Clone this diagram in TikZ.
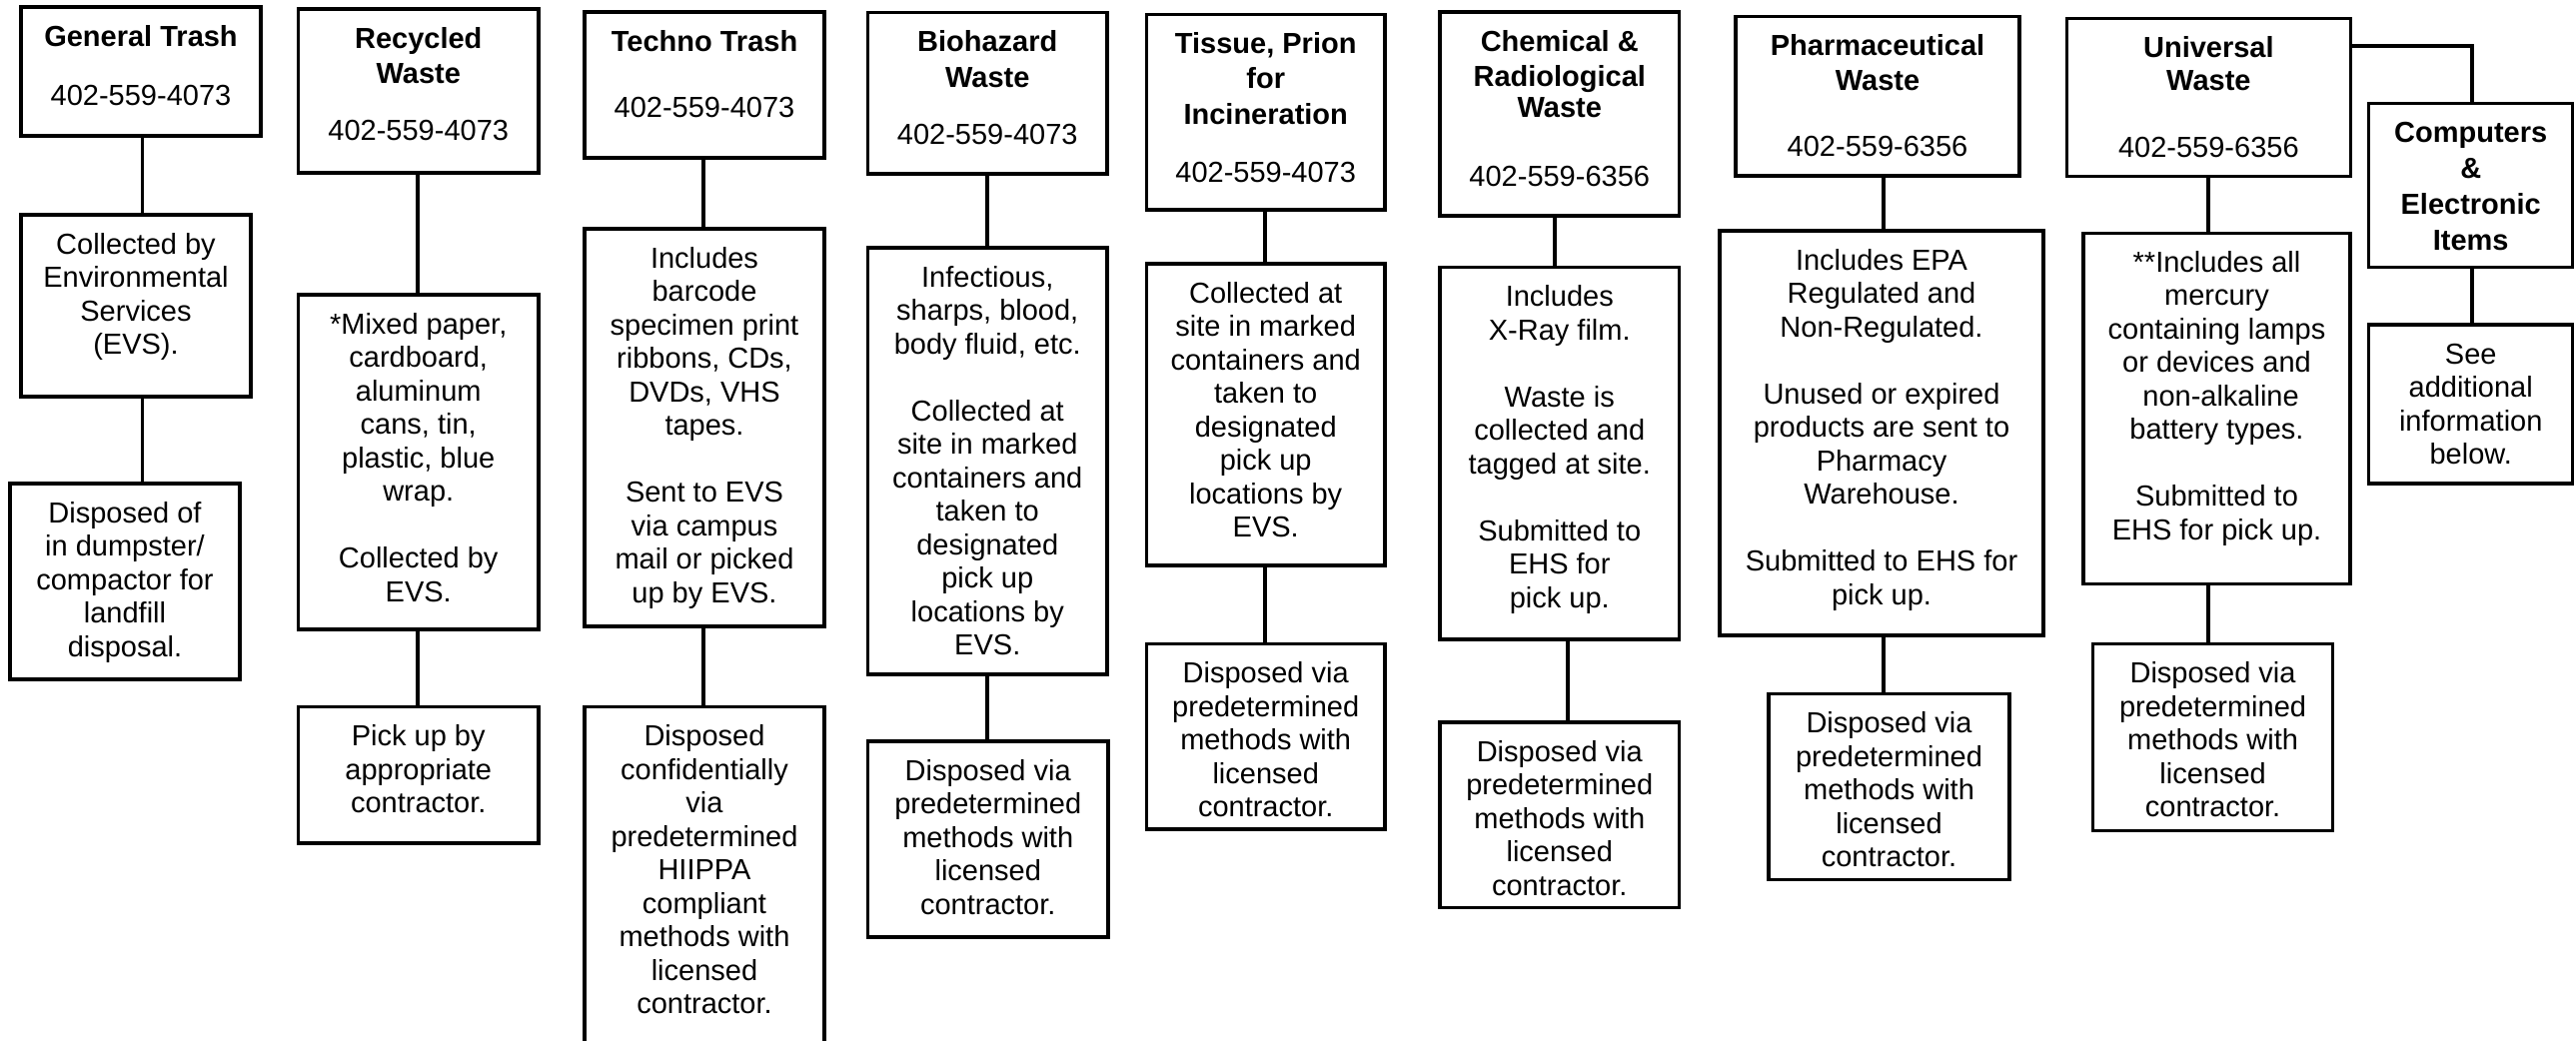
\documentclass[tikz,border=0pt]{standalone}
\usepackage{fontspec}
\setmainfont{Liberation Sans}
\newcommand\wb[3]{\parbox[c][#2][t]{#1}{\fontsize{14.5pt}{16.75pt}\selectfont\centering\rule{0pt}{19.5pt}#3}}
\tikzset{
  wbox/.style={draw, line width=1.65pt, inner sep=0pt},
  conn/.style={line width=1.65pt},
}
\begin{document}
\begin{tikzpicture}[x=0.5pt,y=-0.5pt]
\useasboundingbox (0,0) rectangle (2578,1041);
\fill[white] (0,0) rectangle (2578,1041);
\clip (0,0) rectangle (2578,1041);
% column A
\node[wbox] (A1) at (141,71.5) {\wb{120pt}{64.5pt}{\textbf{General Trash}\\[12.75pt]402-559-4073}};
\node[wbox] (A2) at (136,306) {\wb{115pt}{91pt}{Collected by\\Environmental\\Services\\(EVS).}};
\node[wbox] (A3) at (125,582) {\wb{115pt}{98pt}{Disposed of\\in dumpster/\\compactor for\\landfill\\disposal.}};
% column B
\node[wbox] (B1) at (418.75,91) {\wb{120.25pt}{82pt}{\textbf{Recycled}\\[1pt]\textbf{Waste}\\[11.6pt]402-559-4073}};
\node[wbox] (B2) at (418.75,462.5) {\wb{120.25pt}{167.5pt}{*Mixed paper,\\cardboard,\\aluminum\\cans, tin,\\plastic, blue\\wrap.\\[16.75pt]Collected by\\EVS.}};
\node[wbox] (B3) at (418.75,775.75) {\wb{120.25pt}{68.25pt}{Pick up by\\appropriate\\contractor.}};
% column C
\node[wbox] (C1) at (705,85) {\wb{120pt}{73pt}{\textbf{Techno Trash}\\[16.5pt]402-559-4073}};
\node[wbox] (C2) at (705,428) {\wb{120pt}{199pt}{Includes\\barcode\\specimen print\\ribbons, CDs,\\DVDs, VHS\\tapes.\\[16.75pt]Sent to EVS\\via campus\\mail or picked\\up by EVS.}};
\node[wbox] (C3) at (705,878.75) {\wb{120pt}{171.25pt}{Disposed\\confidentially\\via\\predetermined\\HIIPPA\\compliant\\methods with\\licensed\\contractor.}};
% column D
\node[wbox] (D1) at (988.25,93.35) {\wb{119.75pt}{80.65pt}{\textbf{Biohazard}\\[1pt]\textbf{Waste}\\[12.1pt]402-559-4073}};
\node[wbox] (D2) at (988.25,461.5) {\wb{119.75pt}{213.5pt}{Infectious,\\sharps, blood,\\body fluid, etc.\\[16.75pt]Collected at\\site in marked\\containers and\\taken to\\designated\\pick up\\locations by\\EVS.}};
\node[wbox] (D3) at (988.75,840) {\wb{120.25pt}{98pt}{Disposed via\\predetermined\\methods with\\licensed\\contractor.}};
% column E
\node[wbox] (E1) at (1266.7,112.15) {\wb{119.3pt}{97.85pt}{\textbf{Tissue, Prion}\\[1pt]\textbf{for}\\[1pt]\textbf{Incineration}\\[12.1pt]402-559-4073}};
\node[wbox] (E2) at (1266.7,415) {\wb{119.3pt}{151pt}{Collected at\\site in marked\\containers and\\taken to\\designated\\pick up\\locations by\\EVS.}};
\node[wbox] (E3) at (1266.7,737.3) {\wb{119.3pt}{92.7pt}{Disposed via\\predetermined\\methods with\\licensed\\contractor.}};
% column F
\node[wbox] (F1) at (1560.75,114) {\wb{119.75pt}{102pt}{\textbf{Chemical \&}\\[0.75pt]\textbf{Radiological}\\[-0.9pt]\textbf{Waste}\\[17.4pt]402-559-6356}};
\node[wbox] (F2) at (1560.75,453.85) {\wb{119.75pt}{186.15pt}{Includes\\X-Ray film.\\[16.75pt]Waste is\\collected and\\tagged at site.\\[16.75pt]Submitted to\\EHS for\\pick up.}};
\node[wbox] (F3) at (1560.75,815.8) {\wb{119.75pt}{92.8pt}{Disposed via\\predetermined\\methods with\\licensed\\contractor.}};
% column G
\node[wbox] (G1) at (1879,96.35) {\wb{142pt}{79.65pt}{\textbf{Pharmaceutical}\\[0.5pt]\textbf{Waste}\\[16.25pt]402-559-6356}};
\node[wbox] (G2) at (1883,433.5) {\wb{162pt}{202.5pt}{Includes EPA\\Regulated and\\Non-Regulated.\\[16.75pt]Unused or expired\\products are sent to\\Pharmacy\\Warehouse.\\[16.75pt]Submitted to EHS for\\pick up.}};
\node[wbox] (G3) at (1890.5,787.7) {\wb{120.5pt}{93pt}{Disposed via\\predetermined\\methods with\\licensed\\contractor.}};
% column H
\node[wbox] (H1) at (2210.35,97.5) {\wb{141.95pt}{79.2pt}{\textbf{Universal}\\[0pt]\textbf{Waste}\\[16.5pt]402-559-6356}};
\node[wbox] (H2) at (2218.5,408.9) {\wb{133.5pt}{175.6pt}{**Includes all\\mercury\\containing lamps\\or devices and\\\hspace*{0.28em}non-alkaline\\battery types.\\[16.75pt]Submitted to\\EHS for pick up.}};
\node[wbox] (H3) at (2214.55,738.15) {\wb{119.85pt}{93.55pt}{Disposed via\\predetermined\\methods with\\licensed\\contractor.}};
% column I
\node[wbox] (I1) at (2472.7,185.5) {\wb{101.9pt}{82.2pt}{\textbf{Computers}\\[1.25pt]\textbf{\&}\\[1.25pt]\textbf{Electronic}\\[1.25pt]\textbf{Items}}};
\node[wbox] (I2) at (2472.7,404.5) {\wb{101.9pt}{79.5pt}{See\\additional\\information\\below.}};
% column x positions of connectors
\coordinate (xA) at (142.5,0);
\coordinate (xB) at (418,0);
\coordinate (xC) at (704,0);
\coordinate (xD) at (988,0);
\coordinate (xE) at (1266,0);
\coordinate (xF) at (1556,0);
\coordinate (xFb) at (1569,0);
\coordinate (xG) at (1885,0);
\coordinate (xH) at (2210,0);
\coordinate (hI) at (2474,46);
% connectors
\draw[conn] (A1.south -| xA) -- (A2.north -| xA);
\draw[conn] (A2.south -| xA) -- (A3.north -| xA);
\draw[conn] (B1.south -| xB) -- (B2.north -| xB);
\draw[conn] (B2.south -| xB) -- (B3.north -| xB);
\draw[conn] (C1.south -| xC) -- (C2.north -| xC);
\draw[conn] (C2.south -| xC) -- (C3.north -| xC);
\draw[conn] (D1.south -| xD) -- (D2.north -| xD);
\draw[conn] (D2.south -| xD) -- (D3.north -| xD);
\draw[conn] (E1.south -| xE) -- (E2.north -| xE);
\draw[conn] (E2.south -| xE) -- (E3.north -| xE);
\draw[conn] (F1.south -| xF) -- (F2.north -| xF);
\draw[conn] (F2.south -| xFb) -- (F3.north -| xFb);
\draw[conn] (G1.south -| xG) -- (G2.north -| xG);
\draw[conn] (G2.south -| xG) -- (G3.north -| xG);
\draw[conn] (H1.south -| xH) -- (H2.north -| xH);
\draw[conn] (H2.south -| xH) -- (H3.north -| xH);
\draw[conn] (H1.east |- hI) -- (hI) -- (I1.north -| hI);
\draw[conn] (I1.south -| hI) -- (I2.north -| hI);
\end{tikzpicture}
\end{document}
